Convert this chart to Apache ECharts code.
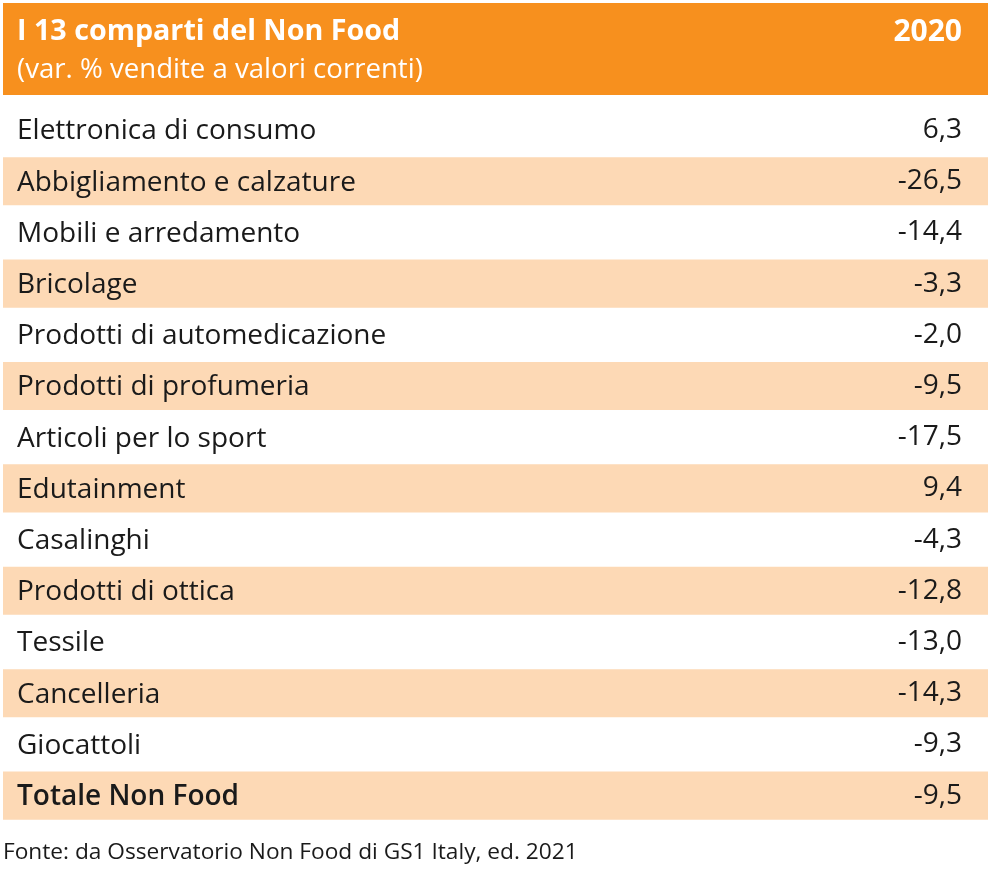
<!DOCTYPE html>
<html>
<head>
<meta charset="utf-8">
<script src="https://cdn.jsdelivr.net/npm/echarts@6/dist/echarts.min.js"></script>
<style>
html,body{margin:0;padding:0;background:#fff;}
#chart{width:1000px;height:878px;}
</style>
</head>
<body>
<div id="chart"></div>
<script>
const titleText = 'I 13 comparti del Non Food';
const subtitleText = '(var. % vendite a valori correnti)';
const yearLabel = '2020';
const sourceText = 'Fonte: da Osservatorio Non Food di GS1 Italy, ed. 2021';

const categories = [
  'Elettronica di consumo',
  'Abbigliamento e calzature',
  'Mobili e arredamento',
  'Bricolage',
  'Prodotti di automedicazione',
  'Prodotti di profumeria',
  'Articoli per lo sport',
  'Edutainment',
  'Casalinghi',
  'Prodotti di ottica',
  'Tessile',
  'Cancelleria',
  'Giocattoli',
  'Totale Non Food'
];
const values = [6.3, -26.5, -14.4, -3.3, -2.0, -9.5, -17.5, 9.4, -4.3, -12.8, -13.0, -14.3, -9.3, -9.5];

const fmt = v => v.toFixed(1).replace('.', ',');
const FONT = '"Open Sans"';
const TEXT = '#1a1a1a';
const lastIdx = categories.length - 1;

const bands = categories.map((c, i) => (i % 2 === 1 ? 1 : '-'));

const chart = echarts.init(document.getElementById('chart'), null, {renderer: 'canvas'});
chart.setOption({
  animation: false,
  backgroundColor: '#ffffff',
  grid: {left: 3, right: 12, top: 104.4, bottom: 56.8, containLabel: false},
  xAxis: {type: 'value', min: 0, max: 1, show: false},
  yAxis: [
    {
      type: 'category', data: categories, inverse: true, position: 'left',
      axisLine: {show: false}, axisTick: {show: false}, splitLine: {show: false},
      axisLabel: {
        inside: true, margin: 14, color: TEXT, fontFamily: FONT, fontSize: 28,
        padding: [3, 0, 0, 0],
        formatter: (v, i) => i === lastIdx ? '{b|' + v + '}' : v,
        rich: {b: {fontFamily: FONT, fontSize: 28, fontWeight: 600, color: TEXT}}
      }
    },
    {
      type: 'category', data: categories, inverse: true, position: 'right',
      axisLine: {show: false}, axisTick: {show: false}, splitLine: {show: false},
      axisLabel: {
        inside: true, margin: 26, color: TEXT, fontFamily: FONT, fontSize: 28,
        padding: [3, 0, 0, 0],
        formatter: (v, i) => fmt(values[i])
      }
    }
  ],
  series: [{
    type: 'bar', data: bands, barCategoryGap: '6%', silent: true,
    itemStyle: {color: '#FDD9B5'}, z: 0
  }],
  graphic: [
    {type: 'rect', left: 3, top: 3, shape: {width: 985, height: 92}, style: {fill: '#F7901E'}, z: -1},
    {type: 'text', left: 17, top: 17, style: {text: titleText, fill: '#fff', font: 'bold 28.7px "Open Sans"'}},
    {type: 'text', left: 17, top: 56, style: {text: subtitleText, fill: '#fff', font: '27.6px "Open Sans"'}},
    {type: 'text', right: 38, top: 17, style: {text: yearLabel, fill: '#fff', font: 'bold 30px "Open Sans"', textAlign: 'right'}},
    {type: 'text', left: 3, top: 841, style: {text: sourceText, fill: TEXT, font: '22.7px "Open Sans"'}}
  ]
});
</script>
</body>
</html>
